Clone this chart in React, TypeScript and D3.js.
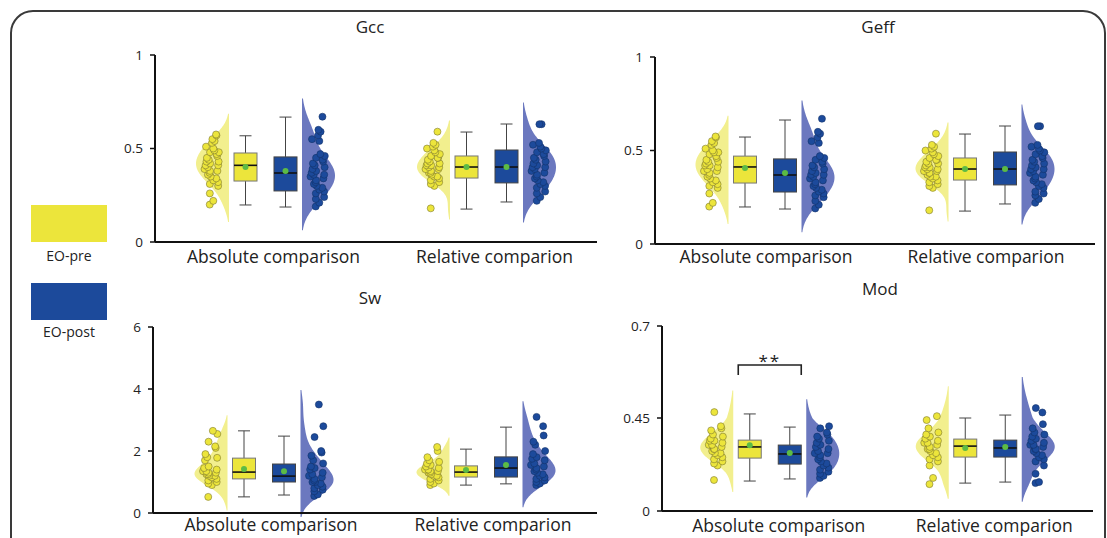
import * as d3 from 'd3';

const groups = ['Absolute comparison', 'Relative comparion'];
const conditions = ['EO-pre', 'EO-post'];

// box summaries: [lower whisker, Q1, median, Q3, upper whisker, mean]
const gccPreBox = [
  [0.198, 0.326, 0.41, 0.476, 0.568, 0.401],
  [0.176, 0.342, 0.401, 0.46, 0.588, 0.401],
];
const gccPostBox = [
  [0.187, 0.273, 0.369, 0.455, 0.668, 0.38],
  [0.214, 0.316, 0.401, 0.492, 0.631, 0.401],
];
const geffPreBox = [
  [0.198, 0.326, 0.412, 0.47, 0.572, 0.406],
  [0.176, 0.342, 0.401, 0.46, 0.588, 0.401],
];
const geffPostBox = [
  [0.187, 0.278, 0.369, 0.455, 0.663, 0.38],
  [0.214, 0.316, 0.401, 0.492, 0.631, 0.401],
];
const swPreBox = [
  [0.52, 1.1, 1.32, 1.77, 2.65, 1.42],
  [0.9, 1.16, 1.32, 1.52, 2.06, 1.39],
];
const swPostBox = [
  [0.58, 1.0, 1.19, 1.58, 2.48, 1.35],
  [0.94, 1.16, 1.45, 1.81, 2.77, 1.55],
];
const modPreBox = [
  [0.145, 0.256, 0.31, 0.343, 0.461, 0.318],
  [0.135, 0.261, 0.314, 0.348, 0.45, 0.305],
];
const modPostBox = [
  [0.155, 0.227, 0.276, 0.319, 0.406, 0.281],
  [0.14, 0.261, 0.305, 0.343, 0.458, 0.31],
];

// individual subjects
const gccAbsPre = [0.2, 0.22, 0.26, 0.3, 0.31, 0.32, 0.33, 0.34, 0.35, 0.36, 0.37, 0.38, 0.38, 0.39, 0.4, 0.41, 0.41, 0.42, 0.43, 0.43, 0.44, 0.45, 0.46, 0.47, 0.48, 0.48, 0.49, 0.5, 0.51, 0.53, 0.54, 0.55, 0.57, 0.575];
const gccAbsPost = [0.19, 0.21, 0.23, 0.24, 0.26, 0.27, 0.28, 0.29, 0.3, 0.31, 0.32, 0.33, 0.34, 0.35, 0.36, 0.36, 0.37, 0.38, 0.39, 0.4, 0.41, 0.42, 0.43, 0.44, 0.45, 0.46, 0.47, 0.54, 0.55, 0.57, 0.59, 0.6, 0.67];
const gccRelPre = [0.18, 0.3, 0.31, 0.32, 0.33, 0.34, 0.35, 0.35, 0.36, 0.37, 0.37, 0.38, 0.39, 0.39, 0.4, 0.4, 0.41, 0.41, 0.42, 0.42, 0.43, 0.44, 0.45, 0.45, 0.46, 0.47, 0.48, 0.49, 0.5, 0.51, 0.52, 0.53, 0.59];
const gccRelPost = [0.22, 0.24, 0.26, 0.27, 0.29, 0.3, 0.31, 0.32, 0.33, 0.34, 0.35, 0.36, 0.37, 0.38, 0.39, 0.4, 0.4, 0.41, 0.42, 0.43, 0.44, 0.45, 0.46, 0.47, 0.48, 0.49, 0.5, 0.51, 0.52, 0.53, 0.63, 0.63];

const geffAbsPre = [0.2, 0.22, 0.27, 0.3, 0.31, 0.32, 0.33, 0.34, 0.35, 0.36, 0.37, 0.38, 0.39, 0.39, 0.4, 0.41, 0.42, 0.42, 0.43, 0.44, 0.44, 0.45, 0.46, 0.47, 0.48, 0.49, 0.49, 0.5, 0.51, 0.53, 0.54, 0.55, 0.57, 0.575];
const geffAbsPost = [0.19, 0.21, 0.23, 0.25, 0.26, 0.27, 0.28, 0.29, 0.3, 0.31, 0.32, 0.33, 0.34, 0.35, 0.36, 0.37, 0.37, 0.38, 0.39, 0.4, 0.41, 0.42, 0.43, 0.44, 0.45, 0.46, 0.47, 0.54, 0.55, 0.57, 0.59, 0.6, 0.67];
const geffRelPre = [0.18, 0.3, 0.31, 0.32, 0.33, 0.34, 0.35, 0.36, 0.36, 0.37, 0.38, 0.38, 0.39, 0.39, 0.4, 0.4, 0.41, 0.41, 0.42, 0.43, 0.43, 0.44, 0.45, 0.45, 0.46, 0.47, 0.48, 0.49, 0.5, 0.51, 0.52, 0.53, 0.59];
const geffRelPost = [0.22, 0.24, 0.26, 0.27, 0.28, 0.3, 0.31, 0.32, 0.33, 0.34, 0.35, 0.36, 0.37, 0.38, 0.39, 0.4, 0.4, 0.41, 0.42, 0.43, 0.44, 0.45, 0.46, 0.47, 0.48, 0.49, 0.5, 0.51, 0.52, 0.53, 0.63, 0.63];

const swAbsPre = [0.52, 0.9, 0.95, 1.0, 1.05, 1.1, 1.15, 1.2, 1.2, 1.25, 1.25, 1.3, 1.3, 1.35, 1.35, 1.4, 1.45, 1.5, 1.7, 1.78, 1.8, 1.9, 2.1, 2.15, 2.3, 2.55, 2.65];
const swAbsPost = [0.55, 0.6, 0.7, 0.75, 0.8, 0.85, 0.9, 0.95, 1.0, 1.0, 1.05, 1.1, 1.15, 1.2, 1.25, 1.3, 1.4, 1.45, 1.5, 1.6, 1.7, 1.85, 1.95, 2.0, 2.45, 2.8, 3.5];
const swRelPre = [0.9, 0.95, 1.0, 1.05, 1.1, 1.15, 1.2, 1.2, 1.25, 1.3, 1.3, 1.35, 1.35, 1.4, 1.4, 1.45, 1.5, 1.55, 1.6, 1.65, 1.7, 1.8, 2.0, 2.13];
const swRelPost = [0.9, 0.95, 1.0, 1.05, 1.1, 1.15, 1.2, 1.25, 1.3, 1.35, 1.4, 1.45, 1.5, 1.55, 1.6, 1.7, 1.75, 1.8, 1.9, 2.0, 2.2, 2.3, 2.5, 2.8, 3.1];

const modAbsPre = [0.15, 0.22, 0.23, 0.24, 0.25, 0.26, 0.27, 0.28, 0.28, 0.29, 0.3, 0.3, 0.31, 0.32, 0.32, 0.33, 0.34, 0.34, 0.35, 0.36, 0.37, 0.39, 0.4, 0.41, 0.466];
const modAbsPost = [0.16, 0.17, 0.18, 0.19, 0.2, 0.21, 0.22, 0.23, 0.24, 0.25, 0.26, 0.27, 0.28, 0.28, 0.29, 0.3, 0.31, 0.32, 0.33, 0.34, 0.35, 0.36, 0.37, 0.38, 0.4, 0.41];
const modRelPre = [0.13, 0.16, 0.22, 0.24, 0.25, 0.26, 0.27, 0.28, 0.29, 0.3, 0.3, 0.31, 0.32, 0.33, 0.33, 0.34, 0.35, 0.36, 0.37, 0.38, 0.4, 0.44, 0.455];
const modRelPost = [0.135, 0.14, 0.18, 0.22, 0.24, 0.25, 0.26, 0.27, 0.28, 0.29, 0.3, 0.3, 0.31, 0.32, 0.32, 0.33, 0.34, 0.35, 0.36, 0.37, 0.38, 0.4, 0.42, 0.465, 0.477];

const gccTicks = [0, 0.5, 1];
const gccTickLabels = ['0', '0.5', '1'];
const swTicks = [0, 2, 4, 6];
const swTickLabels = ['0', '2', '4', '6'];
const modTicks = [0, 0.45, 0.7];
const modTickLabels = ['0', '0.45', '0.7'];

// significance annotation in Mod panel
const modSigGroup = 'Absolute comparison';
const modSigValue = 0.594;
const modSigLabel = '**';

const FONT = '"Open Sans", "Noto Sans", sans-serif';
const PRE_FILL = '#ece53b';
const POST_FILL = '#1c4a9b';
const PRE_VIOLIN = '#f2ef8e';
const POST_VIOLIN = '#6b78bf';
const MEAN_FILL = '#5cbb45';

const kernel = (u: number) => Math.exp(-0.5 * u * u);

// gaussian kde, bandwidth = 1.4 x nrd0, tails run out 3 bandwidths
function density(values: number[]) {
  const n = values.length;
  const sd = d3.deviation(values) as number;
  const iqr = (d3.quantile(values, 0.75) as number) - (d3.quantile(values, 0.25) as number);
  const h = 1.4 * 0.9 * Math.min(sd, iqr / 1.34) * Math.pow(n, -0.2);
  const [mn, mx] = d3.extent(values) as [number, number];
  const lo = mn - 3 * h;
  const hi = mx + 3 * h;
  const grid = d3.range(0, 121).map(i => lo + ((hi - lo) * i) / 120);
  const pts = grid.map(v => [v, d3.mean(values, x => kernel((v - x) / h)) as number]);
  const peak = d3.max(pts, p => p[1]) as number;
  return pts.filter(p => p[1] > peak * 0.025).map(p => [p[0], p[1] / peak]);
}

// deterministic horizontal scatter for the dot strips
const jitter = (i: number) => {
  const s = Math.sin(i * 91.7 + 7.3) * 4375.85;
  return s - Math.floor(s) - 0.5;
};

type PanelCfg = {
  title: string;
  titleX: number;
  titleY: number;
  x: [number, number];
  yDomain: number[];
  yRange: number[];
  ticks: number[];
  tickLabels: string[];
  preBox: number[][];
  postBox: number[][];
  pre: number[][];
  post: number[][];
  labelY: number;
  labelDx: number;
  sig?: { group: string; value: number; label: string };
};

function Panel({ cfg }: { cfg: PanelCfg }) {
  const x = d3.scalePoint<string>().domain(groups).range(cfg.x).padding(0.5);
  const y = d3.scaleLinear().domain(cfg.yDomain).range(cfg.yRange);
  const yBottom = y(cfg.yDomain[0]);
  const yTop = y(cfg.yDomain[cfg.yDomain.length - 1]);

  const violin = (vals: number[], flat: number, dir: number) => {
    const area = d3
      .area<number[]>()
      .y(p => y(p[0]))
      .x0(flat)
      .x1(p => flat + dir * 33 * p[1])
      .curve(d3.curveCatmullRom);
    return area(density(vals)) || '';
  };

  const box = (s: number[], cx: number, fill: string, stroke: string, key: string) => {
    const [lo, q1, med, q3, hi, mean] = s;
    const bw = 23;
    return (
      <g key={key}>
        <line x1={cx} x2={cx} y1={y(hi)} y2={y(q3)} stroke="#444" strokeWidth={1} />
        <line x1={cx} x2={cx} y1={y(q1)} y2={y(lo)} stroke="#444" strokeWidth={1} />
        <line x1={cx - 6} x2={cx + 6} y1={y(hi)} y2={y(hi)} stroke="#444" strokeWidth={1} />
        <line x1={cx - 6} x2={cx + 6} y1={y(lo)} y2={y(lo)} stroke="#444" strokeWidth={1} />
        <rect x={cx - bw / 2} y={y(q3)} width={bw} height={y(q1) - y(q3)} fill={fill} stroke={stroke} strokeWidth={1} />
        <line x1={cx - bw / 2} x2={cx + bw / 2} y1={y(med)} y2={y(med)} stroke="#111" strokeWidth={1.6} />
        <circle cx={cx} cy={y(mean)} r={3} fill={MEAN_FILL} />
      </g>
    );
  };

  const dots = (vals: number[], cx: number, fill: string, stroke: string, key: string) => (
    <g key={key}>
      {vals.map((v, i) => (
        <circle
          key={i}
          cx={cx + jitter(i) * 15}
          cy={y(v)}
          r={3.5}
          fill={fill}
          stroke={stroke}
          strokeWidth={0.6}
        />
      ))}
    </g>
  );

  return (
    <g>
      <text x={cfg.titleX} y={cfg.titleY} textAnchor="middle" fontSize={17} fill="#222">
        {cfg.title}
      </text>
      {groups.map((g, gi) => {
        const c = x(g) as number;
        return (
          <g key={g}>
            <path d={violin(cfg.pre[gi], c - 36.5, -1)} fill={PRE_VIOLIN} />
            <path d={violin(cfg.post[gi], c + 36.5, 1)} fill={POST_VIOLIN} />
            {dots(cfg.pre[gi], c - 54, PRE_FILL, '#7d7830', 'pd')}
            {dots(cfg.post[gi], c + 52, POST_FILL, '#12326a', 'qd')}
            {box(cfg.preBox[gi], c - 20, PRE_FILL, '#777', 'pb')}
            {box(cfg.postBox[gi], c + 20, POST_FILL, '#444', 'qb')}
            <text x={c + cfg.labelDx} y={cfg.labelY} textAnchor="middle" fontSize={17.5} fill="#222">
              {g}
            </text>
          </g>
        );
      })}
      {cfg.sig &&
        (() => {
          const c = x(cfg.sig.group) as number;
          const yy = y(cfg.sig.value);
          return (
            <g>
              <path
                d={`M${c - 31.5},${yy + 10}V${yy}H${c + 31.5}V${yy + 10}`}
                fill="none"
                stroke="#222"
                strokeWidth={1.6}
              />
              <text x={c} y={yy + 2} textAnchor="middle" fontSize={17} fill="#222" letterSpacing={2}>
                {cfg.sig.label}
              </text>
            </g>
          );
        })()}
      <line x1={cfg.x[0]} x2={cfg.x[1]} y1={yBottom} y2={yBottom} stroke="#111" strokeWidth={2} />
      <line x1={cfg.x[0]} x2={cfg.x[0]} y1={yBottom} y2={yTop} stroke="#111" strokeWidth={2} />
      {cfg.ticks.map((t, i) => (
        <g key={t}>
          <line x1={cfg.x[0] - 5} x2={cfg.x[0]} y1={y(t)} y2={y(t)} stroke="#111" strokeWidth={1.5} />
          <text x={cfg.x[0] - 12} y={y(t)} dy="0.35em" textAnchor="end" fontSize={13.5} fill="#222">
            {cfg.tickLabels[i]}
          </text>
        </g>
      ))}
    </g>
  );
}

export default function App() {
  const panels: PanelCfg[] = [
    {
      title: 'Gcc', titleX: 370, titleY: 33, x: [155, 597], yDomain: [0, 1], yRange: [242, 55],
      ticks: gccTicks, tickLabels: gccTickLabels, preBox: gccPreBox, postBox: gccPostBox,
      pre: [gccAbsPre, gccRelPre], post: [gccAbsPost, gccRelPost], labelY: 263, labelDx: 8,
    },
    {
      title: 'Geff', titleX: 878, titleY: 33, x: [655, 1095], yDomain: [0, 1], yRange: [244, 57],
      ticks: gccTicks, tickLabels: gccTickLabels, preBox: geffPreBox, postBox: geffPostBox,
      pre: [geffAbsPre, geffRelPre], post: [geffAbsPost, geffRelPost], labelY: 263, labelDx: 1,
    },
    {
      title: 'Sw', titleX: 370, titleY: 304, x: [153, 597], yDomain: [0, 6], yRange: [513, 327],
      ticks: swTicks, tickLabels: swTickLabels, preBox: swPreBox, postBox: swPostBox,
      pre: [swAbsPre, swRelPre], post: [swAbsPost, swRelPost], labelY: 531, labelDx: 7,
    },
    {
      title: 'Mod', titleX: 880, titleY: 295, x: [662, 1093], yDomain: modTicks, yRange: [511, 418, 326],
      ticks: modTicks, tickLabels: modTickLabels, preBox: modPreBox, postBox: modPostBox,
      pre: [modAbsPre, modRelPre], post: [modAbsPost, modRelPost], labelY: 532, labelDx: 9,
      sig: { group: modSigGroup, value: modSigValue, label: modSigLabel },
    },
  ];
  const legendColors = [PRE_FILL, POST_FILL];

  return (
    <svg width={1107} height={538} style={{ position: 'absolute', left: 0, top: 0, background: '#fff' }} fontFamily={FONT}>
      <rect x={11} y={11} width={1094} height={620} rx={22} fill="#fff" stroke="#3a3a3a" strokeWidth={2} />
      {conditions.map((c, i) => (
        <g key={c}>
          <rect x={31} y={205 + i * 78} width={76} height={37} fill={legendColors[i]} />
          <text x={69} y={261 + i * 76} textAnchor="middle" fontSize={14} fill="#222">
            {c}
          </text>
        </g>
      ))}
      {panels.map(p => (
        <Panel key={p.title} cfg={p} />
      ))}
    </svg>
  );
}
